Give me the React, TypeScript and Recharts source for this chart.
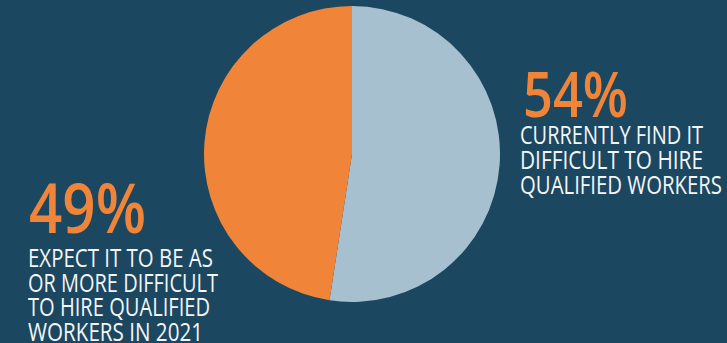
import React from "react";
import { PieChart, Pie, Cell, Customized } from "recharts";

const segments = ["Currently difficult", "Expect as or more difficult"];
const values = [54, 49];
const percentLabels = ["54%", "49%"];
const rightLines = ["CURRENTLY FIND IT", "DIFFICULT TO HIRE", "QUALIFIED WORKERS"];
const leftLines = [
  "EXPECT IT TO BE AS",
  "OR MORE DIFFICULT",
  "TO HIRE QUALIFIED",
  "WORKERS IN 2021",
];

const BG = "#1b4761";
const ORANGE = "#f0853a";
const LIGHT = "#a6c0cf";
const FONT = "'Open Sans', 'Noto Sans', sans-serif";

const data = segments.map((name, i) => ({ name, value: values[i] }));

const rightWidths = [183, 183, 202];
const leftWidths = [185, 190, 182, 175];

// condensed look: squeeze the glyphs horizontally, then fit exact widths
function Squeezed(props: {
  x: number;
  y: number;
  sx: number;
  w: number;
  size: number;
  fill: string;
  weight?: number;
  children: string;
}) {
  const { x, y, sx, w, size, fill, weight, children } = props;
  return (
    <g transform={`translate(${x},${y}) scale(${sx},1)`}>
      <text
        x={0}
        y={0}
        fill={fill}
        fontSize={size}
        fontWeight={weight || 400}
        fontFamily={FONT}
        textLength={w / sx}
        lengthAdjust="spacingAndGlyphs"
      >
        {children}
      </text>
    </g>
  );
}

function Labels() {
  return (
    <g>
      <Squeezed x={523} y={117} sx={0.84} w={105} size={63} fill={ORANGE} weight={600}>
        {percentLabels[0]}
      </Squeezed>
      {rightLines.map((t, i) => (
        <Squeezed key={t} x={520} y={144 + i * 25} sx={0.8} w={rightWidths[i]} size={25} fill="#f4f6f8">
          {t}
        </Squeezed>
      ))}
      <Squeezed x={29} y={233} sx={0.85} w={117} size={69} fill={ORANGE} weight={600}>
        {percentLabels[1]}
      </Squeezed>
      {leftLines.map((t, i) => (
        <Squeezed key={t} x={28} y={267 + i * 24.7} sx={0.8} w={leftWidths[i]} size={26} fill="#f4f6f8">
          {t}
        </Squeezed>
      ))}
    </g>
  );
}

export default function App() {
  return (
    <div style={{ position: "absolute", left: 0, top: 0, width: 727, height: 343, background: BG }}>
      <PieChart width={727} height={343} margin={{ top: 0, right: 0, bottom: 0, left: 0 }}>
        <Pie
          data={data}
          dataKey="value"
          cx={352}
          cy={154}
          outerRadius={148}
          startAngle={90}
          endAngle={-270}
          stroke="none"
          isAnimationActive={false}
        >
          <Cell fill={LIGHT} />
          <Cell fill={ORANGE} />
        </Pie>
        <Customized component={Labels} />
      </PieChart>
    </div>
  );
}
